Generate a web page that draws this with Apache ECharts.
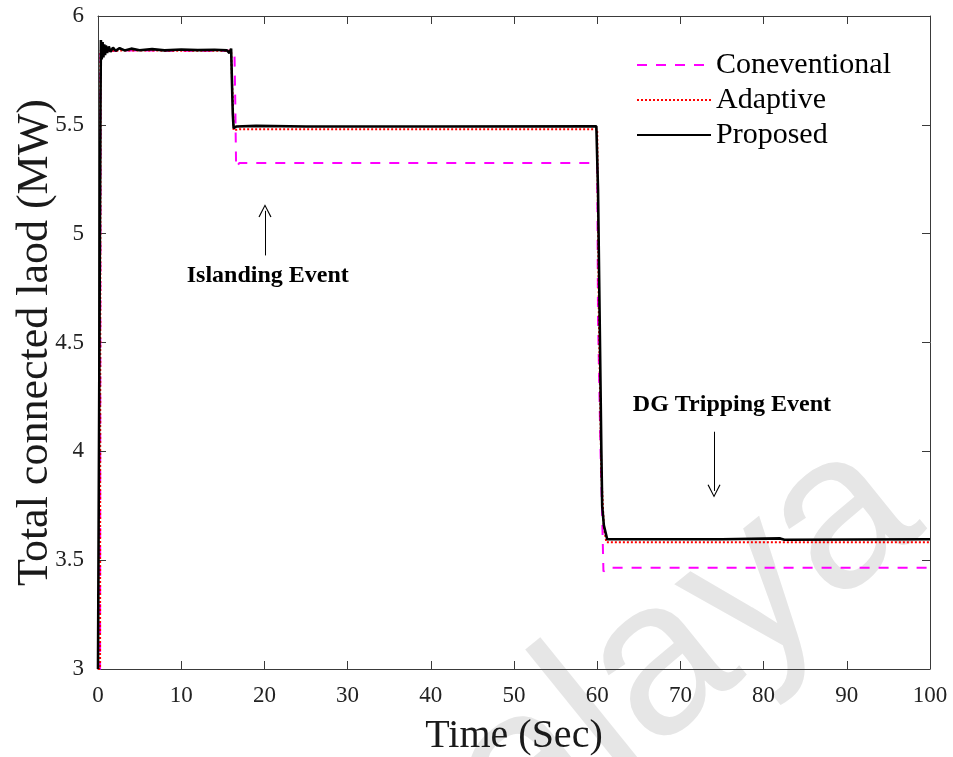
<!DOCTYPE html>
<html>
<head>
<meta charset="utf-8">
<script src="https://cdn.jsdelivr.net/npm/echarts@6/dist/echarts.min.js"></script>
<style>
  html, body { margin: 0; padding: 0; background: #fff; }
  #chart { width: 953px; height: 757px; }
</style>
</head>
<body>
<div id="chart"></div>
<script>
// time (s), load (MW)
const conventional = [
  [0, 3], [0.25, 3.0], [0.3, 5.84], [5, 5.842], [10, 5.84], [16.4, 5.84],
  [16.5, 5.6], [16.6, 5.305], [17, 5.325], [40, 5.325], [60, 5.325],
  [60.1, 4.6], [60.4, 4.0], [60.6, 3.7], [60.75, 3.448], [61.3, 3.465], [100, 3.465]
];
const adaptive = [
  [0, 3], [0.25, 3.0], [0.3, 5.84], [5, 5.842], [10, 5.84], [16.0, 5.84],
  [16.2, 5.6], [16.3, 5.475], [17, 5.48], [40, 5.48], [60.0, 5.48],
  [60.2, 4.6], [60.5, 3.9], [60.8, 3.65], [61.1, 3.582], [80, 3.582], [100, 3.582]
];
const proposed = [
  [0, 3], [0.2, 3.0], [0.3, 5.6], [0.35, 5.89], [0.45, 5.80], [0.55, 5.88],
  [0.65, 5.81], [0.75, 5.87], [0.85, 5.82], [0.95, 5.865], [1.1, 5.83],
  [1.3, 5.86], [1.5, 5.835], [1.8, 5.855], [2.1, 5.84], [2.6, 5.852],
  [3.2, 5.842], [4, 5.85], [5, 5.843], [6.5, 5.848], [8, 5.842], [10, 5.846],
  [12, 5.843], [14, 5.845], [15.5, 5.842], [15.8, 5.83], [16.0, 5.85],
  [16.2, 5.55], [16.3, 5.485], [16.6, 5.492], [19, 5.495], [25, 5.492],
  [40, 5.492], [59.9, 5.493], [60.0, 5.49], [60.1, 5.2], [60.3, 4.6],
  [60.5, 4.0], [60.6, 3.75], [60.8, 3.66], [61.2, 3.596], [75, 3.596],
  [82, 3.6], [82.5, 3.594], [100, 3.596]
];

const xTicks = [0, 10, 20, 30, 40, 50, 60, 70, 80, 90, 100];
const yTicks = ['3', '3.5', '4', '4.5', '5', '5.5', '6'];

// annotation arrows: [tail, head] in data coords, and text anchors
const islandArrow = [[20.07, 4.90], [20.07, 5.105]];
const tripArrow = [[74.04, 4.09], [74.04, 3.818]];
const notes = [
  { name: 'Islanding Event', coord: [20.4, 4.805] },
  { name: 'DG Tripping Event', coord: [76.2, 4.212] }
];

const serif = 'Liberation Serif, Times New Roman, serif';
const axisGray = '#3a3a3a';
const chevron = 'path://M6,0 L12,14 L11,14.6 L6,2.4 L1,14.6 L0,14 Z';

const chart = echarts.init(document.getElementById('chart'), null, { renderer: 'canvas' });

const baseX = {
  type: 'value', min: 0, max: 100, interval: 10,
  axisLine: { show: true, onZero: false, lineStyle: { color: axisGray, width: 1 } },
  axisTick: { show: true, inside: true, length: 8, lineStyle: { color: axisGray } },
  splitLine: { show: false }
};
const baseY = {
  type: 'value', min: 3, max: 6, interval: 0.5,
  axisLine: { show: true, onZero: false, lineStyle: { color: axisGray, width: 1 } },
  axisTick: { show: true, inside: true, length: 8, lineStyle: { color: axisGray } },
  splitLine: { show: false }
};

const option = {
  backgroundColor: '#fff',
  animation: false,
  grid: { left: 98, right: 23, top: 16, bottom: 88, containLabel: false, outerBoundsMode: 'none' },
  legend: {
    data: ['Coneventional', 'Adaptive', 'Proposed'],
    orient: 'vertical',
    left: 631, top: 45,
    itemWidth: 74, itemHeight: 14, itemGap: 5,
    itemStyle: { opacity: 0 },
    textStyle: { fontFamily: serif, fontSize: 30, color: '#000' }
  },
  xAxis: [
    Object.assign({}, baseX, {
      position: 'bottom',
      name: 'Time (Sec)', nameLocation: 'middle', nameGap: 47, nameMoveOverlap: false,
      nameTextStyle: { fontFamily: serif, fontSize: 40, color: '#1a1a1a' },
      axisLabel: { fontFamily: serif, fontSize: 23, color: '#222', margin: 15 }
    }),
    Object.assign({}, baseX, { position: 'top', axisLabel: { show: false } })
  ],
  yAxis: [
    Object.assign({}, baseY, {
      position: 'left',
      name: 'Total connected laod (MW)', nameLocation: 'middle', nameGap: 41, nameMoveOverlap: false,
      nameTextStyle: { fontFamily: serif, fontSize: 44, color: '#1a1a1a' },
      axisLabel: {
        fontFamily: serif, fontSize: 23, color: '#222', margin: 14,
        formatter: function (v) { return yTicks[Math.round((v - 3) * 2)]; }
      }
    }),
    Object.assign({}, baseY, { position: 'right', axisLabel: { show: false } })
  ],
  graphic: [{
    type: 'text', silent: true, z: -1,
    x: 550, y: 898, rotation: 39 * Math.PI / 180,
    style: {
      text: 'alaya', fontFamily: 'Liberation Sans, Arial, sans-serif',
      fontSize: 220, fill: '#e6e6e6', textAlign: 'left', textVerticalAlign: 'bottom'
    }
  }],
  series: [
    {
      name: 'Coneventional', type: 'line', symbol: 'none', z: 3,
      data: conventional,
      lineStyle: { color: '#ff00ff', width: 2, type: [10, 9] },
      itemStyle: { color: '#ff00ff' }
    },
    {
      name: 'Adaptive', type: 'line', symbol: 'none', z: 4,
      data: adaptive,
      lineStyle: { color: '#ff0000', width: 2, type: [2, 2] },
      itemStyle: { color: '#ff0000' }
    },
    {
      name: 'Proposed', type: 'line', symbol: 'none', z: 5,
      data: proposed,
      lineStyle: { color: '#000', width: 2.6 },
      itemStyle: { color: '#000' },
      markLine: {
        silent: true, animation: false,
        symbol: ['none', chevron], symbolSize: 13,
        label: { show: false },
        lineStyle: { color: '#000', width: 1, type: 'solid' },
        data: [
          [{ coord: islandArrow[0] }, { coord: islandArrow[1] }],
          [{ coord: tripArrow[0] }, { coord: tripArrow[1] }]
        ]
      },
      markPoint: {
        silent: true, animation: false,
        symbol: 'circle', symbolSize: 1,
        itemStyle: { color: 'rgba(0,0,0,0)' },
        label: {
          show: true, position: 'inside', formatter: '{b}',
          fontFamily: serif, fontWeight: 'bold', fontSize: 24, color: '#000'
        },
        data: notes
      }
    }
  ]
};

chart.setOption(option);
</script>
</body>
</html>
